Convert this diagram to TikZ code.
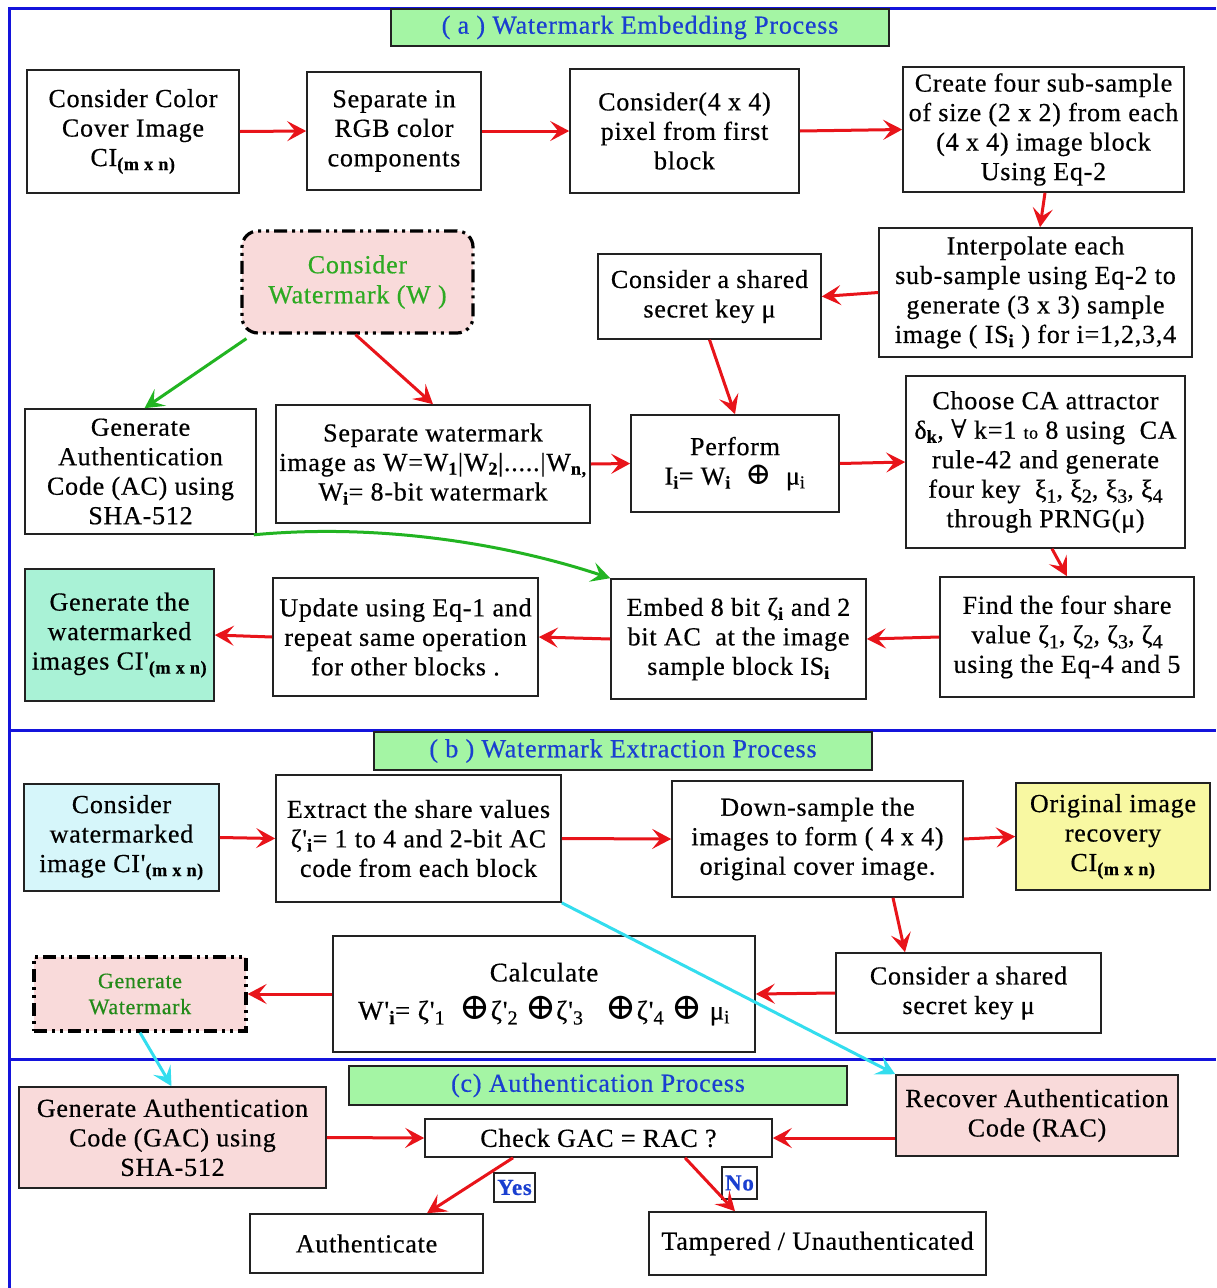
\documentclass[tikz,border=0pt]{standalone}
\usepackage{fontspec}
\setmainfont{Liberation Serif}[LetterSpace=3, FakeBold=0.5, Ligatures=TeXOff]
\newfontfamily\symfont{DejaVu Serif}
\usetikzlibrary{arrows.meta}

\definecolor{framblue}{HTML}{1414DC}
\definecolor{titlegreen}{HTML}{A4F5A4}
\definecolor{titleblue}{HTML}{1A3FD0}
\definecolor{arrowred}{HTML}{E8141A}
\definecolor{pinkfill}{HTML}{F9DADA}
\definecolor{tealfill}{HTML}{A9F2D6}
\definecolor{cyanfill}{HTML}{D6F6FA}
\definecolor{yellowfill}{HTML}{F8F8A2}
\definecolor{wmgreen}{HTML}{2DAA22}
\definecolor{wmdkgreen}{HTML}{228A18}
\definecolor{linkgreen}{HTML}{22B422}
\definecolor{linkcyan}{HTML}{33DDEE}
\definecolor{boxline}{HTML}{222222}

% bold lowered index such as (m x n)
\newcommand\mysub[1]{\textsubscript{\bfseries #1}}
% plain lowered index at nearly full size
\newcommand\lowidx[1]{\raisebox{-5pt}{\fontsize{20}{20}\selectfont #1}}
\newcommand\xor{{\symfont\fontsize{31}{31}\selectfont ⊕}}
\newcommand\bigxor{{\symfont\fontsize{37}{37}\selectfont ⊕}}
\newcommand\forallsym{{\symfont ∀}}

\tikzset{
  txt/.style={font=\fontsize{26}{29.5}\selectfont},
  procbox/.style={draw=boxline, line width=1.6pt, fill=white, inner sep=0pt,
    align=center, txt, text=black},
  titlebox/.style={draw=boxline, line width=1.6pt, fill=titlegreen, inner sep=0pt,
    text=titleblue, font=\fontsize{26}{29}\selectfont},
  dashdotbox/.style={draw=black, line width=3.2pt, fill=pinkfill, inner sep=0pt,
    align=center, dash pattern=on 13pt off 5pt on 3pt off 5pt on 3pt off 5pt},
  tagbox/.style={draw=boxline, line width=1.2pt, inner sep=0pt, text=titleblue,
    font=\fontsize{23}{26}\selectfont\bfseries},
  tip/.style={-{Stealth[length=19pt,width=20pt,inset=8pt]}},
  redarrow/.style={draw=arrowred, line width=3pt, tip},
  greenarrow/.style={draw=linkgreen, line width=3pt, tip},
  cyanarrow/.style={draw=linkcyan, line width=3pt, tip},
  sep/.style={draw=framblue, line width=3pt},
}

\begin{document}
\begin{tikzpicture}[x=1pt,y=-1pt]
\useasboundingbox (0,0) rectangle (1216,1288);
\fill[white] (0,0) rectangle (1216,1288);

% frame and section separators
\draw[sep] (9,1288) -- (9,8) -- (1216,8);
\draw[sep] (8,730) -- (1216,730);
\draw[sep] (8,1059) -- (1216,1059);

% ---------------- (a) embedding ----------------
\node[titlebox, minimum width=498pt, minimum height=37pt] (ta) at (640,27.5)
  {( a ) Watermark Embedding Process};

\node[procbox, minimum width=212pt, minimum height=123pt] (a1) at (133,131.5)
  {Consider Color\\Cover Image\\CI\mysub{(m x n)}};
\node[procbox, minimum width=174pt, minimum height=118pt] (a2) at (394,131)
  {Separate in\\RGB color\\components};
\node[procbox, minimum width=229pt, minimum height=124pt] (a3) at (684.5,131)
  {Consider(4 x 4)\\pixel from first\\block};
\node[procbox, minimum width=281pt, minimum height=125pt] (a4) at (1043.5,129.5)
  {Create four sub-sample\\of size (2 x 2) from each\\(4 x 4) image block\\Using Eq-2};
\node[procbox, minimum width=313pt, minimum height=129pt] (a5) at (1035.5,292.5)
  {Interpolate each\\sub-sample using Eq-2 to\\generate (3 x 3) sample\\image ( IS\mysub{i} ) for i=1,2,3,4};
\node[procbox, minimum width=223pt, minimum height=85pt] (a6) at (709.5,296.5)
  {Consider a shared\\secret key μ};
\node[dashdotbox, rounded corners=16pt, minimum width=231pt, minimum height=102pt,
  text=wmgreen, font=\fontsize{26}{30}\selectfont] (wm) at (357.5,282)
  {Consider\\Watermark (W )};
\node[procbox, minimum width=231pt, minimum height=125pt] (a7) at (140.5,471.5)
  {Generate\\Authentication\\Code (AC) using\\SHA-512};
\node[procbox, minimum width=314pt, minimum height=118pt] (a8) at (433,464)
  {Separate watermark\\image as W=W\mysub{1}|W\mysub{2}|.....|W\mysub{n,}\\W\mysub{i}= 8-bit watermark};
\node[procbox, minimum width=208pt, minimum height=97pt] (a9) at (735,463.5)
  {Perform\\I\mysub{i}= W\mysub{i}\ \ \xor\ \ μ\textsubscript{i}};
\node[procbox, minimum width=279pt, minimum height=172pt] (a10) at (1045.5,462)
  {Choose CA attractor\\δ\mysub{k}, \forallsym\ k=1 {\fontsize{18}{20}\selectfont to} 8 using\ \ CA\\rule-42 and generate\\four key\ \ ξ\lowidx{1}, ξ\lowidx{2}, ξ\lowidx{3}, ξ\lowidx{4}\\through PRNG(μ)};
\node[procbox, minimum width=254pt, minimum height=120pt] (a11) at (1067,637)
  {Find the four share\\value ζ\lowidx{1}, ζ\lowidx{2}, ζ\lowidx{3}, ζ\lowidx{4}\\using the Eq-4 and 5};
\node[procbox, minimum width=255pt, minimum height=120pt] (a12) at (738.5,639)
  {Embed 8 bit ζ\mysub{i} and 2\\bit AC\ \ at the image\\sample block IS\mysub{i}};
\node[procbox, minimum width=265pt, minimum height=118pt] (a13) at (405.5,637)
  {Update using Eq-1 and\\repeat same operation\\for other blocks .};
\node[procbox, fill=tealfill, minimum width=189pt, minimum height=132pt] (a14) at (119.5,635)
  {Generate the\\watermarked\\images CI'\mysub{(m x n)}};

% ---------------- (b) extraction ----------------
\node[titlebox, minimum width=498pt, minimum height=38pt] (tb) at (623,751)
  {( b ) Watermark Extraction Process};

\node[procbox, fill=cyanfill, minimum width=195pt, minimum height=107pt] (b1) at (121.5,837.5)
  {Consider\\watermarked\\image CI'\mysub{(m x n)}};
\node[procbox, minimum width=285pt, minimum height=127pt] (b2) at (418.5,838.5)
  {Extract the share values\\ζ'\mysub{i}= 1 to 4 and 2-bit AC\\code from each block};
\node[procbox, minimum width=291pt, minimum height=116pt] (b3) at (817.5,839)
  {Down-sample the\\images to form ( 4 x 4)\\original cover image.};
\node[procbox, fill=yellowfill, minimum width=194pt, minimum height=107pt] (b4) at (1113,836.5)
  {Original image\\recovery\\CI\mysub{(m x n)}};
\node[procbox, minimum width=265pt, minimum height=80pt] (b5) at (968.5,993)
  {Consider a shared\\secret key μ};
\node[procbox, minimum width=422pt, minimum height=116pt,
  font=\fontsize{27}{38}\selectfont] (b6) at (544,994)
  {Calculate\\W'\mysub{i}= ζ'\lowidx{1}\ \ \bigxor ζ'\lowidx{2}\ \bigxor ζ'\lowidx{3}\ \ \ \bigxor ζ'\lowidx{4}\ \bigxor\ μ\textsubscript{i}};
\node[dashdotbox, minimum width=212pt, minimum height=74pt, text=wmdkgreen,
  font=\fontsize{22}{26}\selectfont] (b7) at (140,994)
  {Generate\\Watermark};

% ---------------- (c) authentication ----------------
\node[titlebox, minimum width=498pt, minimum height=39pt] (tc) at (598,1085.5)
  {(c) Authentication Process};

\node[procbox, fill=pinkfill, minimum width=307pt, minimum height=101pt] (c1) at (172.5,1137.5)
  {Generate Authentication\\Code (GAC) using\\SHA-512};
\node[procbox, minimum width=347pt, minimum height=38pt] (c2) at (598.5,1138)
  {Check GAC = RAC ?};
\node[procbox, fill=pinkfill, minimum width=282pt, minimum height=81pt] (c3) at (1037,1115.5)
  {Recover Authentication\\Code (RAC)};
\node[procbox, minimum width=233pt, minimum height=59pt] (c4) at (366.5,1243.5)
  {Authenticate};
\node[procbox, minimum width=337pt, minimum height=63pt] (c5) at (817.5,1243.5)
  {Tampered / Unauthenticated};
\node[tagbox, minimum width=41pt, minimum height=29pt] (yes) at (514.5,1187.5) {Yes};
\node[tagbox, minimum width=35pt, minimum height=32pt] (no) at (739.5,1183) {No};

% ---------------- connectors ----------------
\draw[redarrow] (a1.east) -- (a2.west);
\draw[redarrow] (a2.east) -- (a3.west);
\draw[redarrow] (a3.east) -- (a4.west);
\draw[redarrow] ([xshift=1.5pt]a4.south) -- ([xshift=4.5pt]a5.north);
\draw[redarrow] (a5.west) -- (a6.east);
\draw[redarrow] (a6.south) -- (a9.north);
\draw[redarrow] ([xshift=-2pt]wm.south) -- (a8.north);
\draw[greenarrow] ([xshift=6pt,yshift=-4pt]wm.south west) -- ([xshift=4pt]a7.north);
\draw[redarrow] (a8.east) -- (a9.west);
\draw[redarrow] (a9.east) -- (a10.west);
\draw[redarrow] ([xshift=6.5pt]a10.south) -- (a11.north);
\draw[redarrow] (a11.west) -- (a12.east);
\draw[redarrow] (a12.west) -- (a13.east);
\draw[redarrow] (a13.west) -- (a14.east);
\draw[greenarrow] ([xshift=-3pt]a7.south east)
  .. controls (390,522) and (520,548) .. (a12.north west);

\draw[redarrow] (b1.east) -- (b2.west);
\draw[redarrow] (b2.east) -- (b3.west);
\draw[redarrow] (b3.east) -- (b4.west);
\draw[redarrow] ([xshift=75.5pt]b3.south) -- ([xshift=-63.5pt]b5.north);
\draw[redarrow] (b5.west) -- (b6.east);
\draw[redarrow] (b6.west) -- (b7.east);
\draw[cyanarrow] (b2.south east) -- (c3.north west);
\draw[cyanarrow] (b7.south) -- ([xshift=-1pt]c1.north);

\draw[redarrow] (c1.east) -- (c2.west);
\draw[redarrow] (c3.west |- c2.east) -- (c2.east);
\draw[redarrow] ([xshift=-85.5pt]c2.south) -- ([xshift=60.5pt]c4.north);
\draw[redarrow] ([xshift=86.5pt]c2.south) -- ([xshift=-82.5pt]c5.north);
\end{tikzpicture}
\end{document}
